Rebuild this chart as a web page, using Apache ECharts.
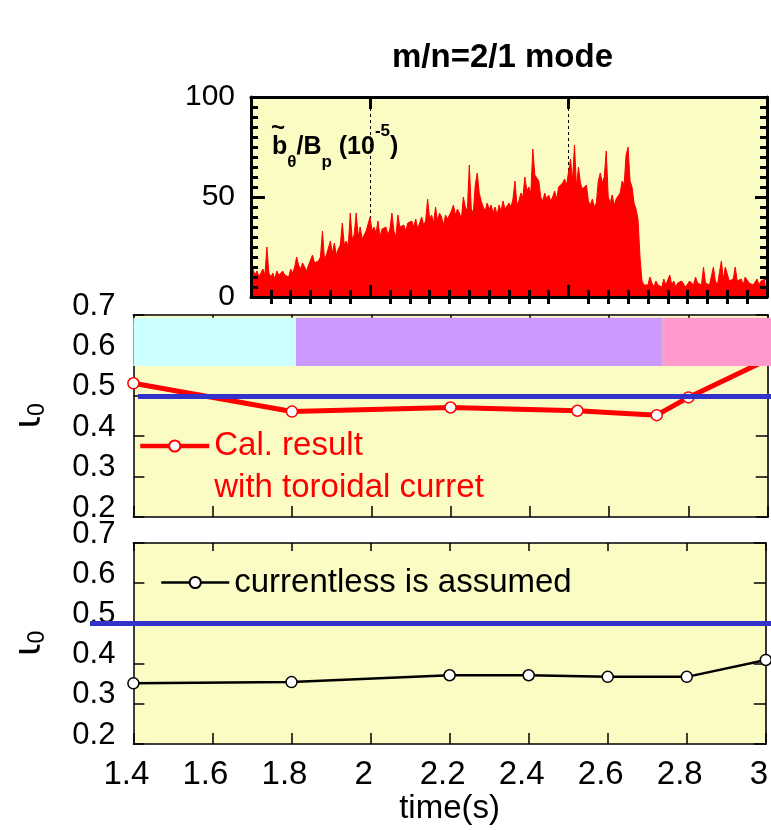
<!DOCTYPE html>
<html><head><meta charset="utf-8">
<script src="https://cdn.jsdelivr.net/npm/echarts@6/dist/echarts.min.js"></script>
<style>html,body{margin:0;padding:0;background:#fff}#c{width:771px;height:830px}</style>
</head><body><div id="c"></div>
<script>
// ---------- data ----------
const modeTimeStart = 1.70;   // s, first sample of the b_theta/B_p trace
const modeTimeStep = 0.005;   // s, sampling step of the trace
const modeAmp = [
  12,14,11,13,10,12,14,11,25,12,
  10,12,9,13,11,10,13,11,12,10,
  14,12,15,20,16,14,17,15,13,16,
  15,21,17,16,18,20,33,19,21,22,
  28,22,27,21,24,26,37,26,28,25,
  42,29,31,42,30,35,29,31,33,34,
  40,33,35,32,38,30,34,33,35,31,
  34,42,33,30,41,35,34,36,33,37,
  36,38,35,39,34,37,40,36,38,49,
  39,41,37,45,38,42,40,36,41,39,
  40,43,46,41,44,42,39,50,45,43,
  66,44,42,56,62,52,48,45,43,47,
  44,46,42,45,41,46,43,48,44,45,
  47,45,49,58,46,48,52,50,60,53,
  55,52,74,61,62,58,50,48,52,49,
  51,48,50,53,49,55,54,57,59,56,
  56,69,58,76,55,65,57,54,53,56,
  48,46,49,45,47,58,62,57,60,73,
  50,47,51,46,49,48,52,58,56,71,
  75,58,55,47,44,39,20,8,6,7,
  6,10,7,5,8,6,7,5,9,6,
  7,11,6,8,5,7,6,8,7,5,
  6,8,7,6,10,7,8,6,15,7,
  8,6,7,15,8,6,7,18,9,15,
  16,8,7,9,15,8,7,9,6,10,
  10,7,8,6,7,9,6,8,7,9,
  8
];
const modeGuideTimes = [2.0, 2.5];
const modeMajorTimeTicks = [2.0, 2.5];
const modeMinorTimeTicks = [1.75,1.8,1.85,1.9,1.95,2.05,2.1,2.15,2.2,2.25,2.3,2.35,2.4,2.45,2.55,2.6,2.65,2.7,2.75,2.8,2.85,2.9,2.95];
const modeMinorAmpTicks = [5,10,15,20,25,30,35,40,45,55,60,65,70,75,80,85,90,95];

const calTimes = [1.4, 1.8, 2.2, 2.52, 2.72, 2.8, 3.0];
const calIota  = [0.531, 0.461, 0.471, 0.463, 0.452, 0.496, 0.59];
const freeTimes = [1.4, 1.8, 2.2, 2.4, 2.6, 2.8, 3.0];
const freeIota  = [0.351, 0.354, 0.371, 0.371, 0.367, 0.367, 0.409];
const resonanceIota = 0.5;

const phaseEdges = [1.4, 1.81, 2.735, 3.01];
const phaseColors = ['#ccffff', '#cc99ff', '#ff99cc'];
const phaseBandLow = 0.574, phaseBandHigh = 0.693;

// ---------- chart ----------
const FONT = 'Liberation Sans';
const YEL = '#fbfbc4';
const chart = echarts.init(document.getElementById('c'), null, {renderer: 'canvas'});

const modeData = modeAmp.map((v, i) => [+(modeTimeStart + i * modeTimeStep).toFixed(3), v]);
const calData = calTimes.map((t, i) => [t, calIota[i]]);
const freeData = freeTimes.map((t, i) => [t, freeIota[i]]);
const phaseData = phaseColors.map((c, i) => [phaseEdges[i], phaseEdges[i + 1], i]);

function tickAxis(base, extra) { return Object.assign({
  type: 'value', splitLine: {show: false}, axisLabel: {show: false},
  axisLine: {show: false}, axisTick: {show: false}
}, base, extra); }

const thick = {color: '#000', width: 3};
const thin = {color: '#000', width: 1.5};

const xAxes = [
  // top panel
  tickAxis({gridIndex: 0, min: 1.7, max: 3.0, position: 'bottom', z: 10},
    {axisLine: {show: true, onZero: false, lineStyle: thick},
     axisTick: {show: true, inside: true, length: 12, lineStyle: thick, customValues: modeMajorTimeTicks}}),
  tickAxis({gridIndex: 0, min: 1.7, max: 3.0, position: 'bottom', z: 10},
    {axisTick: {show: true, inside: true, length: 7, lineStyle: thick, customValues: modeMinorTimeTicks}}),
  tickAxis({gridIndex: 0, min: 1.7, max: 3.0, position: 'top', z: 10},
    {axisLine: {show: true, onZero: false, lineStyle: thick},
     axisTick: {show: true, inside: true, length: 12, lineStyle: thick, customValues: modeMajorTimeTicks}}),
  tickAxis({gridIndex: 0, min: 1.7, max: 3.0, position: 'top', z: 10},
    {axisTick: {show: true, inside: true, length: 7, lineStyle: thick, customValues: modeMinorTimeTicks}}),
  // middle panel
  tickAxis({gridIndex: 1, min: 1.4, max: 3.0, interval: 0.2, position: 'bottom'},
    {axisLine: {show: true, onZero: false, lineStyle: thin},
     axisTick: {show: true, inside: true, length: 11, lineStyle: thin}}),
  tickAxis({gridIndex: 1, min: 1.4, max: 3.0, interval: 0.2, position: 'top'},
    {axisLine: {show: true, onZero: false, lineStyle: thin},
     axisTick: {show: true, inside: true, length: 8, lineStyle: thin}}),
  // bottom panel
  tickAxis({gridIndex: 2, min: 1.4, max: 3.0, interval: 0.2, position: 'bottom',
      name: 'time(s)', nameLocation: 'middle', nameGap: 48,
      nameTextStyle: {fontSize: 33, fontFamily: FONT, color: '#000'}},
    {axisLine: {show: true, onZero: false, lineStyle: thin},
     axisTick: {show: true, inside: true, length: 11, lineStyle: thin},
     axisLabel: {show: true, fontSize: 33, fontFamily: FONT, color: '#000', margin: 14, padding: [0, 14, 0, 0]}}),
  tickAxis({gridIndex: 2, min: 1.4, max: 3.0, interval: 0.2, position: 'top'},
    {axisLine: {show: true, onZero: false, lineStyle: thin},
     axisTick: {show: true, inside: true, length: 8, lineStyle: thin}}),
  // overlay grids for the resonance line
  tickAxis({gridIndex: 3, min: 0, max: 1, show: false}),
  tickAxis({gridIndex: 4, min: 0, max: 1, show: false})
];

const iotaName = {
  name: '{i|ι}{s|0}', nameLocation: 'middle', nameRotate: 90, nameGap: 84,
  nameTextStyle: {rich: {
    i: {fontSize: 38, fontFamily: 'DejaVu Sans', color: '#000', lineHeight: 38},
    s: {fontSize: 23, fontFamily: FONT, color: '#000', lineHeight: 20, verticalAlign: 'bottom'}
  }}
};
const iotaLabels = {show: true, fontSize: 31, fontFamily: FONT, color: '#000', margin: 18,
  verticalAlign: 'bottom', lineHeight: 18};

const yAxes = [
  // top panel
  tickAxis({gridIndex: 0, min: 0, max: 100, interval: 50, position: 'left', z: 10},
    {axisLine: {show: true, onZero: false, lineStyle: thick},
     axisTick: {show: true, inside: true, length: 14, lineStyle: thick},
     axisLabel: {show: true, fontSize: 30, fontFamily: FONT, color: '#000', margin: 16}}),
  tickAxis({gridIndex: 0, min: 0, max: 100, position: 'left', z: 10},
    {axisTick: {show: true, inside: true, length: 7, lineStyle: thick, customValues: modeMinorAmpTicks}}),
  tickAxis({gridIndex: 0, min: 0, max: 100, interval: 50, position: 'right', z: 10},
    {axisLine: {show: true, onZero: false, lineStyle: thick},
     axisTick: {show: true, inside: true, length: 12, lineStyle: thick}}),
  tickAxis({gridIndex: 0, min: 0, max: 100, position: 'right', z: 10},
    {axisTick: {show: true, inside: true, length: 7, lineStyle: thick, customValues: modeMinorAmpTicks}}),
  // middle panel
  tickAxis(Object.assign({gridIndex: 1, min: 0.2, max: 0.7, interval: 0.1, position: 'left'}, iotaName),
    {axisLine: {show: true, onZero: false, lineStyle: thin},
     axisTick: {show: true, inside: true, length: 11, lineStyle: thin},
     axisLabel: iotaLabels}),
  tickAxis({gridIndex: 1, min: 0.2, max: 0.7, interval: 0.1, position: 'right'},
    {axisLine: {show: true, onZero: false, lineStyle: {color: '#333', width: 2}},
     axisTick: {show: true, inside: true, length: 12, lineStyle: thin}}),
  // bottom panel
  tickAxis(Object.assign({gridIndex: 2, min: 0.2, max: 0.7, interval: 0.1, position: 'left'}, iotaName),
    {axisLine: {show: true, onZero: false, lineStyle: thin},
     axisTick: {show: true, inside: true, length: 11, lineStyle: thin},
     axisLabel: iotaLabels}),
  tickAxis({gridIndex: 2, min: 0.2, max: 0.7, interval: 0.1, position: 'right'},
    {axisLine: {show: true, onZero: false, lineStyle: {color: '#333', width: 2}},
     axisTick: {show: true, inside: true, length: 12, lineStyle: thin}}),
  tickAxis({gridIndex: 3, min: 0.2, max: 0.7, show: false}),
  tickAxis({gridIndex: 4, min: 0.2, max: 0.7, show: false})
];

const option = {
  animation: false,
  backgroundColor: '#ffffff',
  title: {text: 'm/n=2/1 mode', left: 392, top: 41, padding: 0,
    textStyle: {fontSize: 33, fontWeight: 'bold', fontFamily: FONT, color: '#000'}},
  grid: [
    {left: 251, top: 97, width: 516, height: 200, show: true, backgroundColor: YEL, borderWidth: 0},
    {left: 133.4, top: 315, width: 634.3, height: 202, show: true, backgroundColor: YEL, borderWidth: 0},
    {left: 133.4, top: 543, width: 634.3, height: 201, show: true, backgroundColor: YEL, borderWidth: 0},
    {left: 138, top: 315, width: 633, height: 202},
    {left: 90, top: 543, width: 681, height: 201}
  ],
  xAxis: xAxes,
  yAxis: yAxes,
  legend: [
    {data: ['calc'], left: 138, top: 383, padding: 0, itemWidth: 69, itemHeight: 14, selectedMode: false,
     lineStyle: {width: 4.5},
     formatter: () => '\nCal. result\nwith toroidal curret',
     textStyle: {color: '#ff0000', fontSize: 33, fontFamily: FONT, lineHeight: 42}},
    {data: ['currentless'], left: 160, top: 566, padding: 0, itemWidth: 68, itemHeight: 14, selectedMode: false,
     lineStyle: {width: 2.5},
     formatter: () => 'currentless is assumed',
     textStyle: {color: '#000', fontSize: 33, fontFamily: FONT, lineHeight: 32}}
  ],
  graphic: [
    {type: 'text', left: 272, top: 123, z: 20, style: {
      text: '{b|b}{s|θ}{b|/B}{s|p}{b| (10}{u|-5}{b|)}',
      rich: {
        b: {fontSize: 25, fontWeight: 'bold', fontFamily: FONT, fill: '#000', lineHeight: 48},
        s: {fontSize: 17, fontWeight: 'bold', fontFamily: FONT, fill: '#000', lineHeight: 16, verticalAlign: 'bottom'},
        u: {fontSize: 17, fontWeight: 'bold', fontFamily: FONT, fill: '#000', lineHeight: 30, verticalAlign: 'top'}
      }}},
    {type: 'text', left: 271, top: 116, z: 20, style: {text: '~', fontSize: 24, fontWeight: 'bold', fontFamily: FONT, fill: '#000'}}
  ],
  series: [
    {name: 'mode', type: 'line', xAxisIndex: 0, yAxisIndex: 0, data: modeData, z: 3,
     showSymbol: false, symbol: 'none', sampling: 'none',
     lineStyle: {color: '#ff0000', width: 1}, areaStyle: {color: '#ff0000', opacity: 1},
     markLine: {silent: true, symbol: 'none', z: 1, label: {show: false},
       lineStyle: {color: '#000', width: 1, type: [3, 3]},
       data: modeGuideTimes.map(t => ({xAxis: t}))}},
    {name: 'calc', type: 'line', xAxisIndex: 4, yAxisIndex: 4, data: calData, z: 2,
     symbol: 'circle', symbolSize: 11,
     lineStyle: {color: '#ff0000', width: 5},
     itemStyle: {color: '#ffffff', borderColor: '#ff0000', borderWidth: 1.5}},
    {name: 'phases', type: 'custom', xAxisIndex: 4, yAxisIndex: 4, data: phaseData, z: 10, silent: true, clip: false,
     renderItem: (params, api) => {
       const p0 = api.coord([api.value(0), phaseBandHigh]);
       const p1 = api.coord([api.value(1), phaseBandLow]);
       return {type: 'rect', shape: {x: p0[0], y: p0[1], width: p1[0] - p0[0], height: p1[1] - p0[1]},
               style: {fill: phaseColors[api.value(2)]}};
     }},
    {name: 'currentless', type: 'line', xAxisIndex: 6, yAxisIndex: 6, data: freeData, z: 3,
     symbol: 'circle', symbolSize: 11,
     lineStyle: {color: '#000', width: 2.5},
     itemStyle: {color: '#ffffff', borderColor: '#000', borderWidth: 1.5}},
    {name: 'res1', type: 'line', xAxisIndex: 8, yAxisIndex: 8, data: [], z: 7,
     markLine: {silent: true, symbol: 'none', z: 7, label: {show: false},
       lineStyle: {color: '#3333cc', width: 5, type: 'solid'}, data: [{yAxis: resonanceIota}]}},
    {name: 'res2', type: 'line', xAxisIndex: 9, yAxisIndex: 9, data: [], z: 7,
     markLine: {silent: true, symbol: 'none', z: 7, label: {show: false},
       lineStyle: {color: '#3333cc', width: 5, type: 'solid'}, data: [{yAxis: resonanceIota}]}}
  ]
};
chart.setOption(option);
</script>
</body></html>
